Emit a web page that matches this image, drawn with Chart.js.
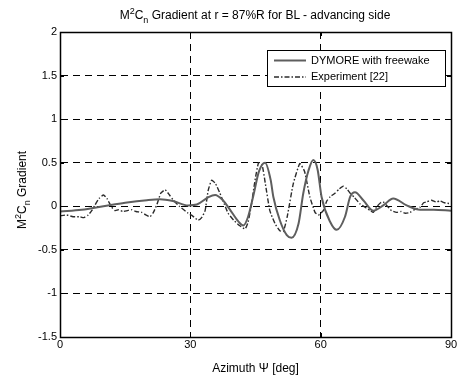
<!DOCTYPE html>
<html>
<head>
<meta charset="utf-8">
<script src="https://cdn.jsdelivr.net/npm/chart.js@4"></script>
<style>
  html, body { margin: 0; padding: 0; background: #fff; }
  #wrap { position: relative; width: 462px; height: 376px; font-family: "Liberation Sans", Arial, sans-serif; color: #000; }
  #chart { position: absolute; left: 0; top: 0; }
  .lbl { position: absolute; white-space: nowrap; font-size: 12px; line-height: 12px; }
  .lbl sup, .lbl sub { font-size: 9px; line-height: 0; position: relative; vertical-align: baseline; }
  .lbl sup { top: -5px; }
  .lbl sub { top: 4px; }
  #title { left: 255px; top: 9px; transform: translateX(-50%); }
  #ylabel { left: 22px; top: 190px; transform: translate(-50%, -50%) rotate(-90deg); }
</style>
</head>
<body>
<div id="wrap">
  <canvas id="chart" width="462" height="376"></canvas>
  <div class="lbl" id="title">M<sup>2</sup>C<sub>n</sub> Gradient at r = 87%R for BL - advancing side</div>
  <div class="lbl" id="ylabel">M<sup>2</sup>C<sub>n</sub> Gradient</div>
</div>
<script>
// DYMORE with freewake (solid)
const dymoreAzimuth = [0, 5, 10, 15, 20, 23, 26, 29.5, 31.5, 34, 35.7, 37.5, 39, 41, 42.2, 43.3, 44.5, 45.8, 47.2, 48.5, 49.1, 50.6, 52.2, 53.3, 54.9, 56, 57.2, 58.3, 59.3, 60.2, 62.2, 63.7, 65.6, 66.8, 67.9, 69.8, 72.1, 74.4, 76.7, 79.8, 82.9, 86, 90];
const dymoreGradient = [-0.06, -0.04, 0.0, 0.04, 0.07, 0.08, 0.06, 0.01, 0.02, 0.10, 0.13, 0.07, -0.03, -0.17, -0.22, -0.12, 0.12, 0.40, 0.50, 0.30, 0.11, -0.16, -0.33, -0.36, -0.20, 0.15, 0.41, 0.53, 0.42, 0.11, -0.18, -0.27, -0.12, 0.11, 0.16, 0.07, -0.05, 0.01, 0.09, 0.01, -0.04, -0.04, -0.05];

// Experiment [22] (dash-dot)
const expAzimuth = [0, 1.5, 3, 4.5, 5.5, 6.5, 7.3, 8, 9, 10, 10.8, 11.9, 12.7, 13.5, 14.5, 15.5, 16.5, 17.5, 18.8, 19.8, 20.7, 21.5, 22.3, 23.2, 24.2, 25.2, 26.1, 27.5, 29.5, 30.5, 31.8, 32.6, 33.4, 34.1, 34.9, 35.8, 36.8, 37.8, 38.7, 40, 41.3, 42.6, 43.3, 44, 44.9, 45.7, 46.5, 47.3, 48.3, 49.5, 50.6, 51.4, 52.3, 53.7, 55.2, 56.3, 57.5, 58.7, 59.5, 60.6, 61.4, 62.2, 63.3, 64.3, 65.2, 66, 66.8, 67.8, 69, 70.5, 71.5, 72.1, 73, 73.8, 74.4, 75.2, 76.3, 77.5, 78.5, 79.5, 80.6, 81.5, 82.9, 83.7, 84.4, 85.5, 86.5, 87.5, 88.5, 89.8];
const expGradient = [-0.11, -0.10, -0.12, -0.12, -0.13, -0.10, -0.05, 0.01, 0.09, 0.13, 0.09, -0.01, -0.05, -0.04, -0.06, -0.05, -0.04, -0.06, -0.07, -0.10, -0.12, -0.07, 0.02, 0.15, 0.19, 0.13, 0.07, 0.00, -0.08, -0.11, -0.16, -0.13, -0.05, 0.18, 0.30, 0.26, 0.15, 0.03, -0.08, -0.16, -0.22, -0.26, -0.18, 0.00, 0.30, 0.50, 0.48, 0.25, -0.05, -0.20, -0.28, -0.29, -0.12, 0.26, 0.49, 0.40, 0.11, -0.07, -0.10, -0.05, 0.06, 0.11, 0.15, 0.20, 0.23, 0.20, 0.15, 0.10, 0.03, -0.02, -0.05, -0.07, 0.00, 0.04, 0.05, 0.01, -0.05, -0.07, -0.06, -0.08, -0.07, -0.04, -0.01, 0.04, 0.05, 0.07, 0.05, 0.06, 0.04, 0.03];

const xTicks = [0, 30, 60, 90];
const yTicks = [-1.5, -1, -0.5, 0, 0.5, 1, 1.5, 2];
const seriesNames = ['DYMORE with freewake', 'Experiment [22]'];

const FONT = '"Liberation Sans", Arial, sans-serif';
const pts = (xs, ys) => xs.map((x, i) => ({ x, y: ys[i] }));

// box, inward ticks and legend drawn like the MATLAB figure
const frame = {
    id: 'frame',
    afterDraw(chart) {
        const { ctx, chartArea: a, scales: { x, y } } = chart;
        ctx.save();
        ctx.strokeStyle = '#000';
        ctx.lineWidth = 1;
        ctx.setLineDash([]);
        ctx.beginPath();
        xTicks.forEach(v => {
            const px = Math.round(x.getPixelForValue(v)) + 0.5;
            ctx.moveTo(px, a.bottom); ctx.lineTo(px, a.bottom - 4);
            ctx.moveTo(px, a.top); ctx.lineTo(px, a.top + 4);
        });
        yTicks.forEach(v => {
            const py = Math.round(y.getPixelForValue(v)) + 0.5;
            ctx.moveTo(a.left, py); ctx.lineTo(a.left + 4, py);
            ctx.moveTo(a.right, py); ctx.lineTo(a.right - 4, py);
        });
        ctx.stroke();
        ctx.lineWidth = 1.5;
        ctx.strokeRect(Math.round(a.left) + 0.5, Math.round(a.top) + 0.5, Math.round(a.right - a.left), Math.round(a.bottom - a.top));

        // legend
        const bx = 267.5, by = 50.5, bw = 178, bh = 36;
        ctx.fillStyle = '#fff';
        ctx.fillRect(bx, by, bw, bh);
        ctx.lineWidth = 1;
        ctx.strokeRect(bx, by, bw, bh);
        ctx.font = '11px ' + FONT;
        ctx.textBaseline = 'middle';
        chart.data.datasets.forEach((ds, i) => {
            const ly = 60.5 + i * 16.5;
            ctx.strokeStyle = ds.borderColor;
            ctx.lineWidth = ds.borderWidth;
            ctx.setLineDash(ds.borderDash || []);
            ctx.beginPath();
            ctx.moveTo(274, ly); ctx.lineTo(306, ly);
            ctx.stroke();
            ctx.setLineDash([]);
            ctx.fillStyle = '#000';
            ctx.fillText(ds.label, 311, ly);
        });
        ctx.restore();
    }
};

new Chart(document.getElementById('chart'), {
    type: 'line',
    data: {
        datasets: [
            { label: seriesNames[0], data: pts(dymoreAzimuth, dymoreGradient), borderColor: '#5e5e5e', borderWidth: 2, pointRadius: 0, tension: 0.4, cubicInterpolationMode: 'monotone', fill: false },
            { label: seriesNames[1], data: pts(expAzimuth, expGradient), borderColor: '#2b2b2b', borderWidth: 1.4, borderDash: [5, 2, 1.5, 2], pointRadius: 0, tension: 0.15, fill: false }
        ]
    },
    options: {
        responsive: false,
        animation: false,
        devicePixelRatio: 1,
        layout: { padding: { top: 32, right: 11, left: 0, bottom: 0 } },
        plugins: { legend: { display: false }, tooltip: { enabled: false }, title: { display: false } },
        scales: {
            x: {
                type: 'linear', min: 0, max: 90,
                afterBuildTicks: s => { s.ticks = xTicks.map(v => ({ value: v })); },
                afterFit: s => { s.height = 39; },
                ticks: { color: '#000', font: { family: FONT, size: 11 }, padding: 1, maxRotation: 0, callback: v => String(v) },
                grid: { color: '#000', lineWidth: 1, drawTicks: false },
                border: { display: true, color: '#000', width: 1, dash: [7, 5] },
                title: { display: true, text: 'Azimuth Ψ [deg]', color: '#000', font: { family: FONT, size: 12 }, padding: { top: 3, bottom: 0 } }
            },
            y: {
                min: -1.5, max: 2,
                afterBuildTicks: s => { s.ticks = yTicks.map(v => ({ value: v })); },
                afterFit: s => { s.width = 60; },
                ticks: { color: '#000', font: { family: FONT, size: 11 }, padding: 3, callback: v => String(v) },
                grid: { color: '#000', lineWidth: 1, drawTicks: false },
                border: { display: true, color: '#000', width: 1, dash: [7, 5] }
            }
        }
    },
    plugins: [frame]
});
</script>
</body>
</html>
